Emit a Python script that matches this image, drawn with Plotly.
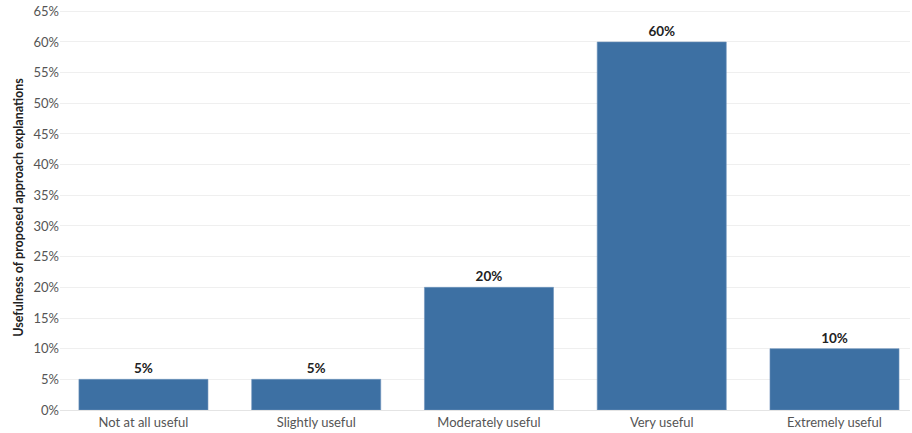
import plotly.graph_objects as go

categories = ["Not at all useful", "Slightly useful", "Moderately useful", "Very useful", "Extremely useful"]
shares = [5, 5, 20, 60, 10]
tick_values = list(range(0, 70, 5))
tick_labels = [f"{v}%" for v in tick_values]

fig = go.Figure(
    go.Bar(
        x=categories,
        y=shares,
        width=0.747,
        marker=dict(color="#3D70A3", line=dict(color="#6F93BC", width=0.6)),
        text=[f"{v}%" for v in shares],
        textposition="outside",
        textfont=dict(family="Lato, Open Sans, sans-serif", size=13.5, color="#222222", weight="bold"),
        cliponaxis=False,
    )
)

fig.update_layout(
    width=912,
    height=433,
    margin=dict(l=60, r=2, t=5, b=23),
    paper_bgcolor="white",
    plot_bgcolor="white",
    showlegend=False,
    bargap=0.25,
    font=dict(family="Lato, Open Sans, sans-serif"),
    xaxis=dict(
        type="category",
        range=[-0.483, 4.437],
        showgrid=False,
        showline=True,
        linecolor="#E4E4E4",
        linewidth=1,
        ticks="",
        tickfont=dict(size=13, color="#555555"),
        zeroline=False,
    ),
    yaxis=dict(
        range=[0, 66.03],
        tickvals=tick_values,
        ticktext=tick_labels,
        showgrid=True,
        gridcolor="#EFEFEF",
        gridwidth=1,
        zeroline=False,
        ticks="",
        tickfont=dict(size=13, color="#555555"),
        title=dict(
            text="Usefulness of proposed approach explanations",
            font=dict(size=12.5, color="#222222", weight="bold"),
            standoff=7,
        ),
    ),
)

fig.write_html("out.html")
